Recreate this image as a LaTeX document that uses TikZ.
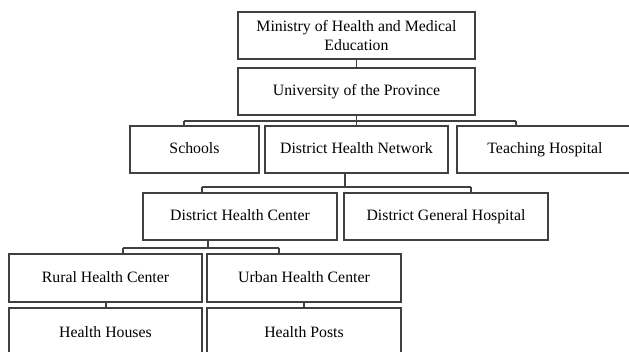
\documentclass[tikz,border=0pt]{standalone}
\usepackage{fontspec}
\setmainfont{Liberation Serif}
\usetikzlibrary{calc}

\begin{document}
\begin{tikzpicture}[x=1pt, y=-1pt,
    unit/.style={draw=black!75, line width=1.1pt, minimum height=47pt, inner sep=0pt,
        font=\fontsize{15.8}{18.5}\selectfont, align=center, text height=0.95em, text depth=0.05em},
    link/.style={draw=black!75, line width=1.1pt}]
    \useasboundingbox (0,0) rectangle (629,352);
    \clip (0,0) rectangle (629,352);

    % =====================
    % Top levels
    % =====================
    \node[unit, minimum width=237pt, text height=, text depth=] (ministry) at (356.5,35.5) {Ministry of Health and Medical\\Education};
    \node[unit, minimum width=237pt] (university) at (356.5,91.5) {University of the Province};
    \draw[link] (ministry.south) -- (university.north);

    % =====================
    % Provincial units
    % =====================
    \node[unit, minimum width=129pt] (schools) at (194.5,149.5) {Schools};
    \node[unit, minimum width=183pt] (network) at (356.5,149.5) {District Health Network};
    \node[unit, minimum width=176pt] (teaching) at (545,149.5) {Teaching Hospital};

    \coordinate (bra) at (184,121);
    \coordinate (brb) at (516,121);
    \draw[link] (university.south) -- (network.north);
    \draw[link] (bra) -- (brb);
    \draw[link] (bra) -- (bra |- schools.north);
    \draw[link] (brb) -- (brb |- teaching.north);

    % =====================
    % District level
    % =====================
    \node[unit, minimum width=194pt] (center) at (240,216.5) {District Health Center};
    \node[unit, minimum width=204pt] (general) at (446,216.5) {District General Hospital};

    \coordinate (bda) at (202,187);
    \coordinate (bdb) at (471,187);
    \draw[link] (345,0 |- network.south) -- (345,0 |- bda);
    \draw[link] (bda) -- (bdb);
    \foreach \c in {bda, bdb} {
        \draw[link] (\c) -- (\c |- center.north);
    }

    % =====================
    % Health centers and posts
    % =====================
    \node[unit, minimum width=193pt, minimum height=48pt] (rural) at (105.5,278) {Rural Health Center};
    \node[unit, minimum width=194pt, minimum height=48pt] (urban) at (304,278) {Urban Health Center};
    \node[unit, minimum width=193pt, minimum height=50pt] (houses) at (105.5,333) {Health Houses};
    \node[unit, minimum width=194pt, minimum height=50pt] (posts) at (304,333) {Health Posts};

    \coordinate (bca) at (123,248);
    \coordinate (bcb) at (279,248);
    \draw[link] (208,0 |- center.south) -- (208,0 |- bca);
    \draw[link] (bca) -- (bcb);
    \foreach \c in {bca, bcb} {
        \draw[link] (\c) -- (\c |- rural.north);
    }
    \draw[link] (106,0 |- rural.south) -- (106,0 |- houses.north);
    \draw[link] (urban.south) -- (posts.north);
\end{tikzpicture}
\end{document}
